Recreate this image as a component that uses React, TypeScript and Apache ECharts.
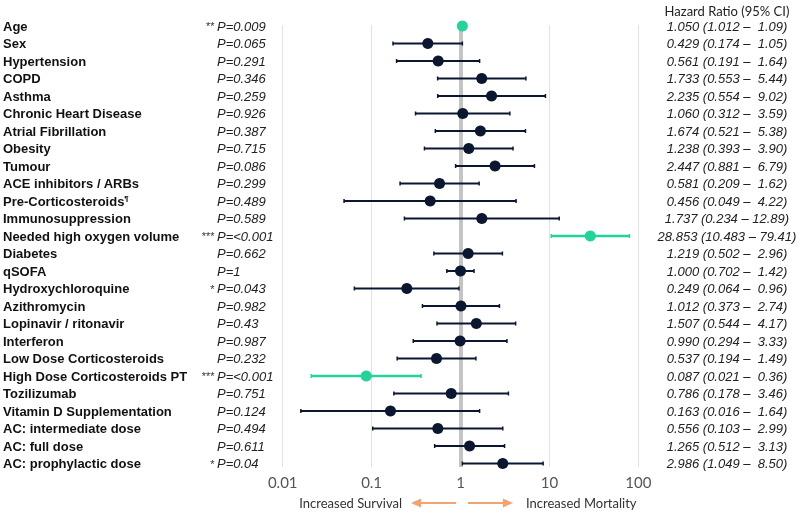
import React, { useEffect, useRef } from "react";
import * as echarts from "echarts";

const labels = [
  "Age", "Sex", "Hypertension", "COPD", "Asthma", "Chronic Heart Disease",
  "Atrial Fibrillation", "Obesity", "Tumour", "ACE inhibitors / ARBs",
  "Pre-Corticosteroids¶", "Immunosuppression", "Needed high oxygen volume",
  "Diabetes", "qSOFA", "Hydroxychloroquine", "Azithromycin",
  "Lopinavir / ritonavir", "Interferon", "Low Dose Corticosteroids",
  "High Dose Corticosteroids PT", "Tozilizumab", "Vitamin D Supplementation",
  "AC: intermediate dose", "AC: full dose", "AC: prophylactic dose",
];
const hr = [1.05, 0.429, 0.561, 1.733, 2.235, 1.06, 1.674, 1.238, 2.447, 0.581, 0.456, 1.737, 28.853, 1.219, 1.0, 0.249, 1.012, 1.507, 0.99, 0.537, 0.087, 0.786, 0.163, 0.556, 1.265, 2.986];
const lo = [1.012, 0.174, 0.191, 0.553, 0.554, 0.312, 0.521, 0.393, 0.881, 0.209, 0.049, 0.234, 10.483, 0.502, 0.702, 0.064, 0.373, 0.544, 0.294, 0.194, 0.021, 0.178, 0.016, 0.103, 0.512, 1.049];
const hi = [1.09, 1.05, 1.64, 5.44, 9.02, 3.59, 5.38, 3.9, 6.79, 1.62, 4.22, 12.89, 79.41, 2.96, 1.42, 0.96, 2.74, 4.17, 3.33, 1.49, 0.36, 3.46, 1.64, 2.99, 3.13, 8.5];
const pvals = ["0.009", "0.065", "0.291", "0.346", "0.259", "0.926", "0.387", "0.715", "0.086", "0.299", "0.489", "0.589", "<0.001", "0.662", "1", "0.043", "0.982", "0.43", "0.987", "0.232", "<0.001", "0.751", "0.124", "0.494", "0.611", "0.04"];
const stars = ["**", "", "", "", "", "", "", "", "", "", "", "", "***", "", "", "*", "", "", "", "", "***", "", "", "", "", "*"];
const highlighted = ["Age", "Needed high oxygen volume", "High Dose Corticosteroids PT"];
const xTicks = [0.01, 0.1, 1, 10, 100];

const NAVY = "#0b1731";
const TEAL = "#22d49c";
const ORANGE = "#f3a46e";
const NB = "\u00a0";

const GRID_LEFT = 282.7;
const GRID_RIGHT = 800 - 638.3;
const ROW = 17.5;
const FIRST_Y = 26;

function hrText(i: number) {
  const h = hi[i].toFixed(2);
  const pad = h.length < 5 ? NB + NB : NB;
  return `${hr[i].toFixed(3)} (${lo[i].toFixed(3)} –${pad}${h})`;
}

export default function App() {
  const ref = useRef<HTMLDivElement>(null);
  useEffect(() => {
    if (!ref.current) return;
    const chart = echarts.init(ref.current, undefined, { renderer: "svg" });
    const colorOf = (i: number) => (highlighted.includes(labels[i]) ? TEAL : NAVY);
    const baseY = {
      type: "category" as const,
      gridIndex: 0,
      data: labels,
      inverse: true,
      axisLine: { show: false },
      axisTick: { show: false },
      splitLine: { show: false },
    };
    const option: any = {
      animation: false,
      grid: [
        { left: GRID_LEFT, right: GRID_RIGHT, top: FIRST_Y - ROW / 2, height: ROW * labels.length },
        { left: GRID_LEFT, right: GRID_RIGHT, top: 25, bottom: 512 - 467 },
      ],
      xAxis: [
        { type: "log", logBase: 10, min: 0.01, max: 100, gridIndex: 0, show: false },
        {
          type: "log", logBase: 10, min: 0.01, max: 100, gridIndex: 1,
          axisLine: { show: false },
          axisTick: { show: false },
          splitLine: { show: true, lineStyle: { color: "#e2e2e2", width: 1 } },
          axisLabel: {
            margin: 7,
            fontSize: 15,
            color: "#555",
            fontFamily: "Lato",
            formatter: (v: number) => {
              const t = xTicks.find((x) => Math.abs(Math.log10(x) - Math.log10(v)) < 1e-6);
              return t !== undefined ? String(t) : "";
            },
          },
        },
      ],
      yAxis: [
        {
          ...baseY,
          position: "left",
          axisLabel: {
            align: "left",
            margin: GRID_LEFT - 3,
            fontSize: 13,
            fontWeight: "bold",
            fontFamily: "Liberation Sans",
            color: "#111",
            formatter: (v: string) => (v.endsWith("¶") ? `${v.slice(0, -1)}{sup|¶}` : v),
            rich: {
              sup: { fontSize: 8, fontWeight: "bold", fontFamily: "Liberation Sans", color: "#111", padding: [0, 0, 5, 0] },
            },
          },
        },
        {
          ...baseY,
          position: "left",
          axisLabel: {
            align: "left",
            margin: GRID_LEFT - 217,
            fontSize: 13,
            fontStyle: "italic",
            fontFamily: "Liberation Sans",
            color: "#222",
            formatter: (_v: string, i: number) => `P=${pvals[i]}`,
          },
        },
        {
          ...baseY,
          position: "left",
          axisLabel: {
            align: "right",
            margin: GRID_LEFT - 214,
            fontSize: 11,
            fontStyle: "italic",
            fontFamily: "Liberation Sans",
            color: "#333",
            padding: [0, 0, 4, 0],
            formatter: (_v: string, i: number) => stars[i],
          },
        },
        {
          ...baseY,
          position: "right",
          axisLabel: {
            align: "center",
            margin: 727 - 638.3,
            fontSize: 13,
            fontStyle: "italic",
            fontFamily: "Liberation Sans",
            color: "#222",
            formatter: (_v: string, i: number) => hrText(i),
          },
        },
        { type: "value", gridIndex: 1, min: 0, max: 1, show: false },
      ],
      series: [
        {
          type: "line",
          xAxisIndex: 1,
          yAxisIndex: 4,
          data: [],
          z: 1,
          markLine: {
            silent: true,
            symbol: "none",
            label: { show: false },
            lineStyle: { color: "#c4c4c4", width: 4, type: "solid", opacity: 1 },
            data: [{ xAxis: 1 }],
          },
        },
        {
          type: "custom",
          xAxisIndex: 0,
          yAxisIndex: 0,
          z: 10,
          data: labels.map((_, i) => [lo[i], hi[i], i]),
          encode: { x: [0, 1], y: 2 },
          renderItem: (params: any, api: any) => {
            const i = api.value(2);
            const a = api.coord([api.value(0), i]);
            const b = api.coord([api.value(1), i]);
            const c = colorOf(params.dataIndex);
            const w = c === TEAL ? 2.5 : 2;
            const style = { stroke: c, lineWidth: w };
            return {
              type: "group",
              children: [
                { type: "line", shape: { x1: a[0], y1: a[1], x2: b[0], y2: b[1] }, style },
                { type: "line", shape: { x1: a[0], y1: a[1] - 2, x2: a[0], y2: a[1] + 2 }, style: { stroke: c, lineWidth: 1.5 } },
                { type: "line", shape: { x1: b[0], y1: b[1] - 2, x2: b[0], y2: b[1] + 2 }, style: { stroke: c, lineWidth: 1.5 } },
              ],
            };
          },
        },
        {
          type: "scatter",
          xAxisIndex: 0,
          yAxisIndex: 0,
          z: 11,
          symbol: "circle",
          symbolSize: 11,
          data: labels.map((_, i) => ({ value: [hr[i], i], itemStyle: { color: colorOf(i), opacity: 1 } })),
        },
      ],
      graphic: [
        {
          type: "text",
          x: 727,
          y: 11,
          style: { text: "Hazard Ratio (95% CI)", fontSize: 13, fontFamily: "Lato", fill: "#222", align: "center", verticalAlign: "middle" },
        },
        {
          type: "text",
          x: 402,
          y: 503,
          style: { text: "Increased Survival", fontSize: 13, fontFamily: "Lato", fill: "#333", align: "right", verticalAlign: "middle" },
        },
        {
          type: "text",
          x: 526,
          y: 503,
          style: { text: "Increased Mortality", fontSize: 13, fontFamily: "Lato", fill: "#333", align: "left", verticalAlign: "middle" },
        },
        { type: "line", shape: { x1: 456, y1: 503, x2: 418, y2: 503 }, style: { stroke: ORANGE, lineWidth: 2 } },
        { type: "polygon", shape: { points: [[411, 503], [421, 498.5], [421, 507.5]] }, style: { fill: ORANGE } },
        { type: "line", shape: { x1: 468, y1: 503, x2: 506, y2: 503 }, style: { stroke: ORANGE, lineWidth: 2 } },
        { type: "polygon", shape: { points: [[513, 503], [503, 498.5], [503, 507.5]] }, style: { fill: ORANGE } },
      ],
    };
    chart.setOption(option);
    return () => chart.dispose();
  }, []);
  return <div ref={ref} style={{ position: "fixed", left: 0, top: 0, width: 800, height: 512 }} />;
}
